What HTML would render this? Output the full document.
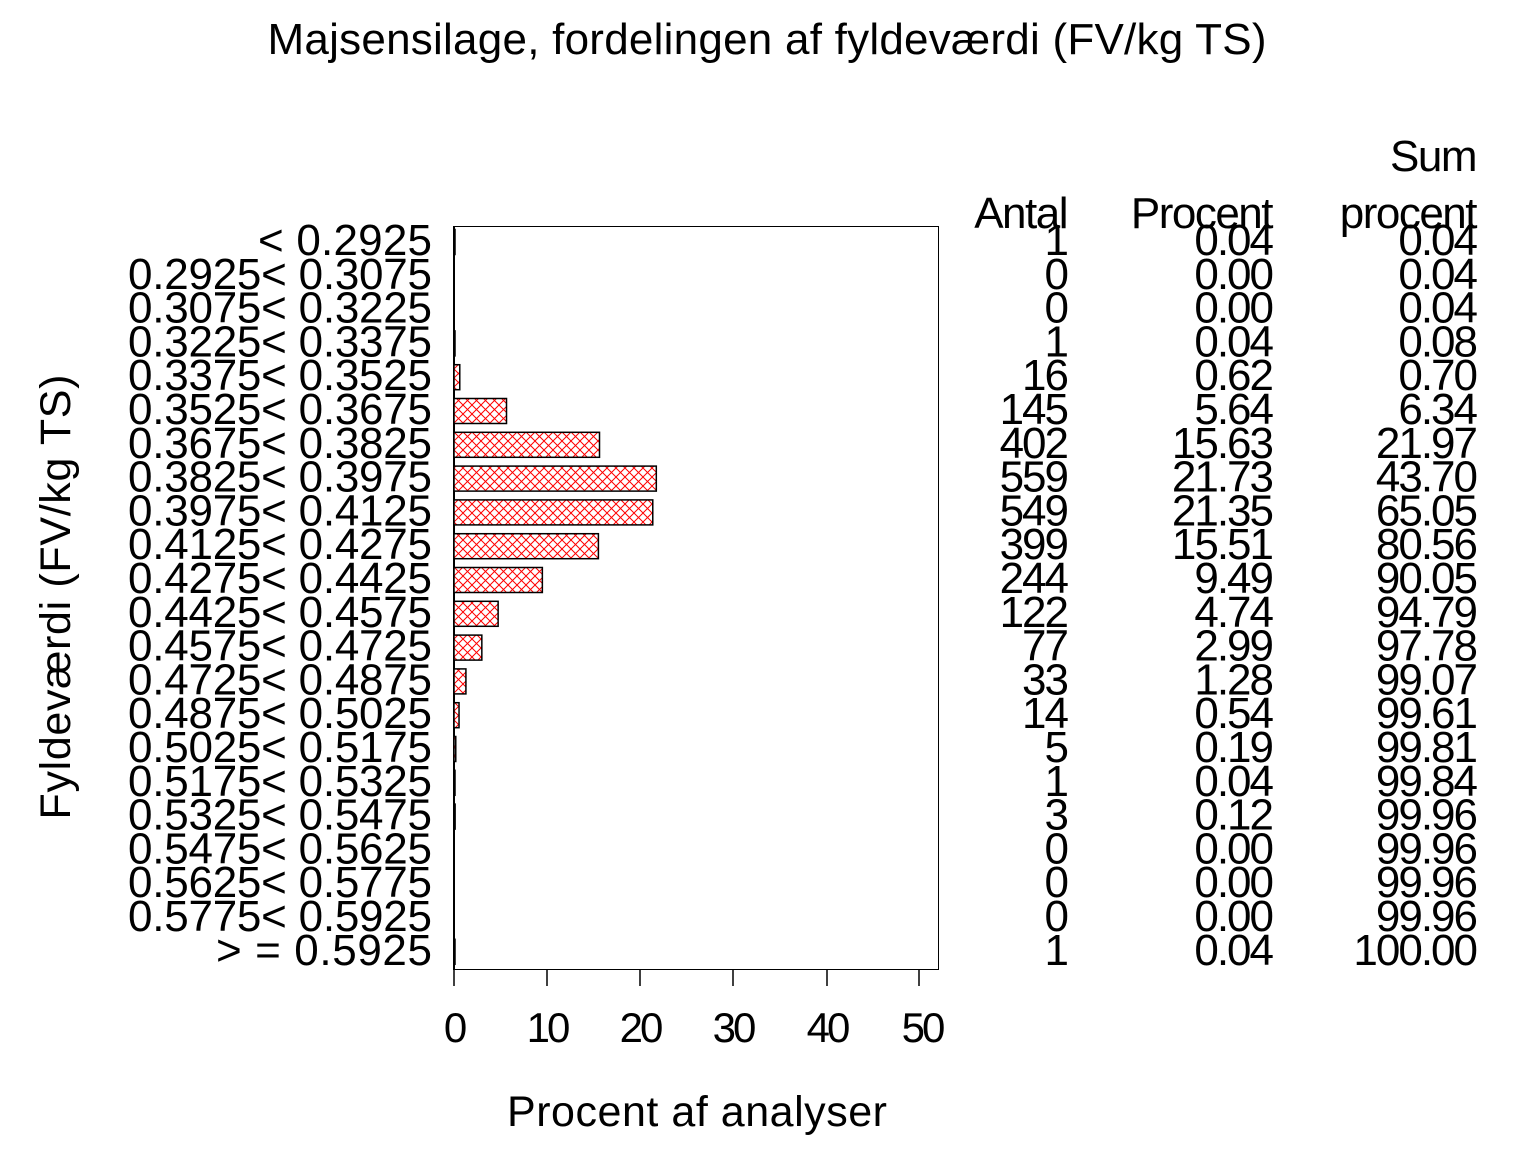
<!DOCTYPE html>
<html><head><meta charset="utf-8"><style>
html,body{margin:0;padding:0;background:#fff;}
svg{display:block;}
text{font-family:"Liberation Sans",Arial,sans-serif;fill:#000;}
</style></head><body>
<svg width="1536" height="1152" viewBox="0 0 1536 1152" xmlns="http://www.w3.org/2000/svg">
<defs>
<pattern id="h" width="9" height="9" patternUnits="userSpaceOnUse" x="454" y="0">
<rect width="9" height="9" fill="#fff"/>
<path d="M0,0 L9,9 M9,0 L0,9" stroke="#ff0000" stroke-width="1"/>
</pattern>
</defs>
<text x="767" y="54" font-size="44" text-anchor="middle" textLength="999" lengthAdjust="spacing">Majsensilage, fordelingen af fyldeværdi (FV/kg TS)</text>
<rect x="454.5" y="226.5" width="484" height="743" fill="none" stroke="#000" stroke-width="1"/>
<g stroke="#000" stroke-width="1.5">
<line x1="454" y1="970" x2="454" y2="986"/>
<line x1="547" y1="970" x2="547" y2="986"/>
<line x1="640" y1="970" x2="640" y2="986"/>
<line x1="733" y1="970" x2="733" y2="986"/>
<line x1="827" y1="970" x2="827" y2="986"/>
<line x1="919" y1="970" x2="919" y2="986"/>
<line x1="454" y1="226" x2="454" y2="970" stroke-width="2"/>
</g>
<g font-size="42" text-anchor="middle" letter-spacing="-3">
<text x="454" y="1042">0</text><text x="547" y="1042">10</text><text x="640" y="1042">20</text><text x="733" y="1042">30</text><text x="827" y="1042">40</text><text x="922" y="1042">50</text>
</g>
<text x="697" y="1126" font-size="43" text-anchor="middle" textLength="380" lengthAdjust="spacing">Procent af analyser</text>
<text transform="translate(70,597) rotate(-90)" font-size="43" text-anchor="middle" textLength="445" lengthAdjust="spacing">Fyldeværdi (FV/kg TS)</text>
<g font-size="44" text-anchor="end" letter-spacing="-1.5">
<text x="1476" y="171">Sum</text>
<text x="1067" y="228">Antal</text><text x="1272" y="228">Procent</text><text x="1476" y="228">procent</text>
</g>
<g id="bars" stroke="#000" stroke-width="1.5" fill="url(#h)"></g>
<g id="lab" font-size="44" text-anchor="end" letter-spacing="-2"></g>
<script>
var lab=["< 0.2925","0.2925< 0.3075","0.3075< 0.3225","0.3225< 0.3375","0.3375< 0.3525","0.3525< 0.3675","0.3675< 0.3825","0.3825< 0.3975","0.3975< 0.4125","0.4125< 0.4275","0.4275< 0.4425","0.4425< 0.4575","0.4575< 0.4725","0.4725< 0.4875","0.4875< 0.5025","0.5025< 0.5175","0.5175< 0.5325","0.5325< 0.5475","0.5475< 0.5625","0.5625< 0.5775","0.5775< 0.5925","> = 0.5925"];
var n=[1,0,0,1,16,145,402,559,549,399,244,122,77,33,14,5,1,3,0,0,0,1];
var p=["0.04","0.00","0.00","0.04","0.62","5.64","15.63","21.73","21.35","15.51","9.49","4.74","2.99","1.28","0.54","0.19","0.04","0.12","0.00","0.00","0.00","0.04"];
var s=["0.04","0.04","0.04","0.08","0.70","6.34","21.97","43.70","65.05","80.56","90.05","94.79","97.78","99.07","99.61","99.81","99.84","99.96","99.96","99.96","99.96","100.00"];
var NS="http://www.w3.org/2000/svg",B=document.getElementById("bars"),L=document.getElementById("lab");
function t(x,y,str,len){var e=document.createElementNS(NS,"text");e.setAttribute("x",x);e.setAttribute("y",y);if(len){e.setAttribute("textLength",len);e.setAttribute("lengthAdjust","spacing");}e.textContent=str;L.appendChild(e);}
for(var i=0;i<22;i++){var cy=242+i*33.8,by=cy+13;
var w=parseFloat(p[i])*9.31;
if(w>0){var r=document.createElementNS(NS,"rect");r.setAttribute("x",454);r.setAttribute("y",cy-12.5);r.setAttribute("width",Math.max(w,1));r.setAttribute("height",25);B.appendChild(r);}
var ln=lab[i].indexOf("< 0.")>0?302:null;
if(i==0)ln=172; if(i==21)ln=214;
t(430,by,lab[i],ln);t(1067,by,n[i]);t(1272,by,p[i]);t(1476,by,s[i]);}
</script>
</svg>
</body></html>
